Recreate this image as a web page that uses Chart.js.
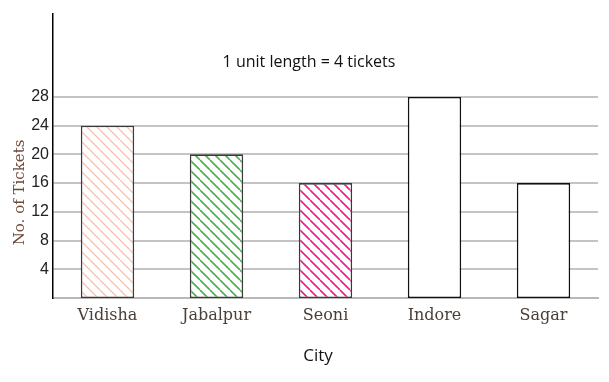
<!DOCTYPE html>
<html>
<head>
<meta charset="utf-8">
<script src="https://cdn.jsdelivr.net/npm/chart.js@4"></script>
<style>
html,body{margin:0;padding:0;background:#fff;}
#wrap{width:609px;height:382px;position:relative;}
</style>
</head>
<body>
<div id="wrap"><canvas id="c" width="609" height="382"></canvas></div>
<script>
const cities = ["Vidisha", "Jabalpur", "Seoni", "Indore", "Sagar"];
const tickets = [24, 20, 16, 28, 16];
const yTicks = [4, 8, 12, 16, 20, 24, 28];
const hatchColors = ["#f7bfae", "#4caf50", "#ec1c8e", null, null];
const noteText = "1 unit length = 4 tickets";
const xTitle = "City";
const yTitle = "No. of Tickets";

function hatch(color, s, w) {
  if (!color) return "#ffffff";
  const c = document.createElement("canvas");
  c.width = s; c.height = s;
  const g = c.getContext("2d");
  g.fillStyle = "#fff"; g.fillRect(0, 0, s, s);
  g.strokeStyle = color; g.lineWidth = w;
  g.beginPath();
  for (const k of [-s, 0, s]) { g.moveTo(k, 0); g.lineTo(k + s, s); }
  g.stroke();
  return g.createPattern(c, "repeat");
}

const textPlugin = {
  id: "texts",
  afterDraw(chart) {
    const ctx = chart.ctx;
    const ys = chart.scales.y;
    ctx.save();
    ctx.textAlign = "center";
    ctx.textBaseline = "middle";
    ctx.font = "16px 'Open Sans'";
    ctx.fillStyle = "#111";
    ctx.fillText(noteText, 309, ys.getPixelForValue(32.8));
    ctx.font = "17px 'Open Sans'";
    ctx.fillText(xTitle, 318, 356);
    ctx.translate(20, (ys.getPixelForValue(0) + ys.getPixelForValue(28)) / 2 - 5);
    ctx.rotate(-Math.PI / 2);
    ctx.font = "15px 'DejaVu Serif'";
    ctx.fillStyle = "#6e4a36";
    ctx.fillText(yTitle, 0, 0);
    ctx.restore();
  }
};

new Chart(document.getElementById("c"), {
  type: "bar",
  data: {
    labels: cities,
    datasets: [{
      data: tickets,
      backgroundColor: hatchColors.map((c, i) => hatch(c, 10, i === 0 ? 1.3 : 1.6)),
      borderColor: ["#3a3a3a", "#3a3a3a", "#3a3a3a", "#111", "#111"],
      borderWidth: 1.6,
      borderSkipped: false,
      barPercentage: 0.49,
      categoryPercentage: 1.0
    }]
  },
  options: {
    responsive: false,
    animation: false,
    layout: { padding: { left: 0, right: 11, top: 12, bottom: 0 } },
    plugins: { legend: { display: false }, tooltip: { enabled: false } },
    scales: {
      x: {
        grid: { display: false, drawTicks: false },
        border: { display: true, color: "#b8b8b8", width: 2 },
        ticks: { color: "#4b4037", font: { family: "'DejaVu Serif'", size: 16 }, padding: 8 },
        afterFit(s) { s.height = 84; }
      },
      y: {
        min: 0, max: 39.6,
        afterBuildTicks(s) { s.ticks = yTicks.map(v => ({ value: v })); },
        grid: { color: "#c4c4c4", lineWidth: 2, drawTicks: false },
        border: { display: true, color: "#000", width: 1.5 },
        ticks: { color: "#222", font: { family: "'Liberation Sans'", size: 16 }, padding: 4 },
        afterFit(s) { s.width = 53; }
      }
    }
  },
  plugins: [textPlugin]
});
</script>
</body>
</html>
